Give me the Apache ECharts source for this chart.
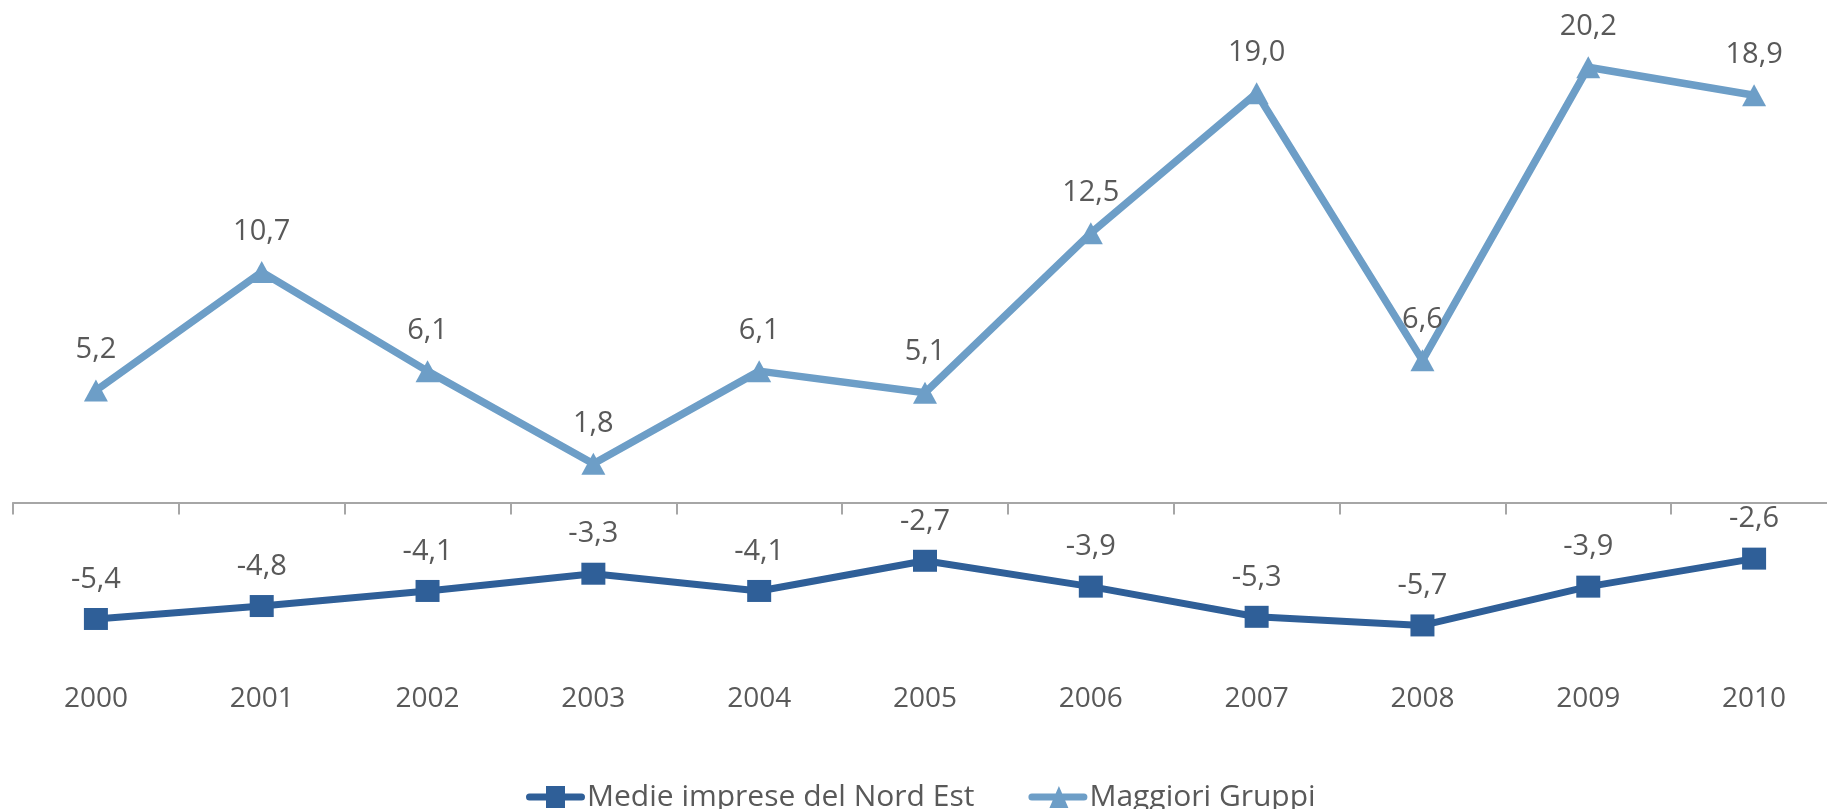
<!DOCTYPE html>
<html>
<head>
<meta charset="utf-8">
<script src="https://cdn.jsdelivr.net/npm/echarts@6/dist/echarts.min.js"></script>
<style>
  html, body { margin: 0; padding: 0; background: #fff; }
  #chart { width: 1827px; height: 809px; }
</style>
</head>
<body>
<div id="chart"></div>
<script>
var myChart = echarts.init(document.getElementById('chart'));

// dati
var anni = ['2000', '2001', '2002', '2003', '2004', '2005', '2006', '2007', '2008', '2009', '2010'];
var medieImprese = [-5.4, -4.8, -4.1, -3.3, -4.1, -2.7, -3.9, -5.3, -5.7, -3.9, -2.6];
var maggioriGruppi = [5.2, 10.7, 6.1, 1.8, 6.1, 5.1, 12.5, 19.0, 6.6, 20.2, 18.9];

var textColor = '#595959';
var scuro = '#2F5F98';
var chiaro = '#6D9EC7';
var fmt = function (p) {
    return p.value.toFixed(1).replace('.', ',');
};

// icone legenda: linea spessa + marker
var linea = 'M3.5,7.5 L55.5,7.5 A3.5,3.5 0 0 1 55.5,14.5 L3.5,14.5 A3.5,3.5 0 0 1 3.5,7.5 Z ';
var iconaQuadrato = 'path://' + linea + 'M20,0 L39,0 L39,22 L20,22 Z';
var iconaTriangolo = 'path://' + linea + 'M30.5,0 L40,22 L21,22 Z';

var option = {
    backgroundColor: '#fff',
    animation: false,
    grid: {
        left: 13,
        width: 1824,
        top: 28.5,
        height: 646.5,
        outerBoundsMode: 'none'
    },
    legend: {
        left: 521,
        top: 777,
        itemWidth: 59,
        itemHeight: 22,
        itemGap: 54,
        textStyle: {
            color: textColor,
            fontSize: 30,
            fontFamily: 'Open Sans',
            padding: [0, 0, 0, -3]
        },
        data: [
            { name: 'Medie imprese del Nord Est', icon: iconaQuadrato, itemStyle: { color: scuro } },
            { name: 'Maggiori Gruppi', icon: iconaTriangolo, itemStyle: { color: chiaro } }
        ]
    },
    xAxis: [
        {
            type: 'category',
            data: anni,
            axisLine: { onZero: true, lineStyle: { color: '#A6A6A6', width: 2 } },
            axisTick: { show: true, length: 12, lineStyle: { color: '#A6A6A6', width: 2 } },
            axisLabel: { show: false }
        },
        {
            type: 'category',
            data: anni,
            position: 'bottom',
            axisLine: { show: false, onZero: false },
            axisTick: { show: false },
            axisLabel: {
                margin: 10,
                color: textColor,
                fontSize: 28,
                fontFamily: 'Open Sans'
            }
        }
    ],
    yAxis: {
        type: 'value',
        min: -8,
        max: 22,
        show: false,
        splitLine: { show: false }
    },
    series: [
        {
            name: 'Medie imprese del Nord Est',
            type: 'line',
            data: medieImprese,
            symbol: 'rect',
            symbolSize: [24, 22],
            color: scuro,
            lineStyle: { width: 7, color: scuro },
            itemStyle: { color: scuro },
            label: {
                show: true,
                position: 'top',
                distance: 14,
                formatter: fmt,
                color: textColor,
                fontSize: 29,
                fontFamily: 'Open Sans'
            }
        },
        {
            name: 'Maggiori Gruppi',
            type: 'line',
            data: maggioriGruppi,
            symbol: 'triangle',
            symbolSize: [24, 22],
            color: chiaro,
            lineStyle: { width: 7.5, color: chiaro },
            itemStyle: { color: chiaro },
            label: {
                show: true,
                position: 'top',
                distance: 15,
                formatter: fmt,
                color: textColor,
                fontSize: 29,
                fontFamily: 'Open Sans'
            }
        }
    ]
};

myChart.setOption(option);
</script>
</body>
</html>
